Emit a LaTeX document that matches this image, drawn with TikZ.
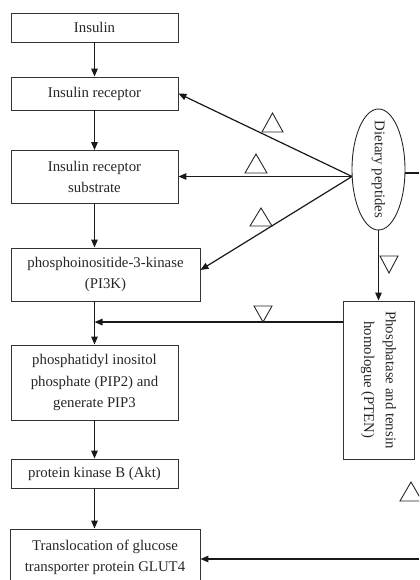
\documentclass[tikz,border=0pt]{standalone}
\usepackage{fontspec}
\setmainfont{Liberation Serif}
\usetikzlibrary{arrows.meta,shapes.geometric,calc}
\begin{document}
\begin{tikzpicture}[x=1bp,y=-1bp,
  txt/.style={font=\fontsize{14.8bp}{21.7bp}\selectfont, align=center, inner sep=0pt, text=black!85},
  stagebox/.style={draw=black!80, line width=0.9bp, inner sep=0pt},
  arr/.style={draw=black!90, line width=1.2bp, -{Triangle[length=8bp,width=6.5bp]}},
  plain/.style={draw=black!90, line width=1.2bp},
  effectmark/.style={draw=black!85, line width=0.9bp, line join=miter}]
\useasboundingbox (0,0) rectangle (419,580);
\clip (0,0) rectangle (419,580);

% pathway boxes
\node[stagebox, minimum width=167bp, minimum height=29bp] (ins) at (94.5,27.5) {};
\node[txt] (insT) at (ins) {Insulin};
\node[stagebox, minimum width=167bp, minimum height=33bp] (ir) at (94.5,93.5) {};
\node[txt] (irT) at (ir) {Insulin receptor};
\node[stagebox, minimum width=167bp, minimum height=53bp] (irs) at (94.5,177) {};
\node[txt] (irsT) at (irs) {Insulin receptor\\substrate};
\node[stagebox, minimum width=189bp, minimum height=53bp] (pi3k) at (105.5,274.5) {};
\node[txt] (pi3kT) at (pi3k) {phosphoinositide-3-kinase\\(PI3K)};
\node[stagebox, minimum width=167bp, minimum height=75bp] (pip) at (94.5,382.5) {};
\node[txt] (pipT) at (pip) {phosphatidyl inositol\\phosphate (PIP2) and\\generate PIP3};
\node[stagebox, minimum width=167bp, minimum height=29bp] (akt) at (94.5,473.5) {};
\node[txt] (aktT) at (akt) {protein kinase B (Akt)};
\node[stagebox, minimum width=190bp, minimum height=58bp] (glut) at (105,558) {};
\node[txt] (glutT) at (105,557.5) {Translocation of glucose\\transporter protein GLUT4};

% dietary peptides and PTEN
\node[draw=black!85, line width=0.9bp, ellipse, minimum width=53bp, minimum height=121bp, inner sep=0pt] (dp) at (378.5,169.5) {};
\node[txt, rotate=-90] (dpT) at (dp) {Dietary peptides};
\node[stagebox, minimum width=71bp, minimum height=158bp] (pten) at (378.5,380) {};
\node[txt, rotate=-90] (ptenT) at (pten) {Phosphatase and tensin\\homologue (PTEN)};

% main cascade
\draw[arr] (ins.south) -- (ir.north);
\draw[arr] (ir.south) -- (irs.north);
\draw[arr] (irs.south) -- (irs.south |- pi3k.north);
\draw[arr] (pi3k.south -| pip.north) -- (pip.north);
\draw[arr] (pip.south) -- (akt.north);
\draw[arr] (akt.south) -- (akt.south |- glut.north);

% effects of dietary peptides
\coordinate (hub) at (352,176.5);
\draw[arr] (hub) -- (ir.east);
\draw[arr] (hub) -- (hub -| irs.east);
\draw[arr] (hub) -- ($(pi3k.east)+(0,-4.5)$);
\draw[arr] (dp.south) -- (dp.south |- pten.north);
\coordinate (ptenOut) at ($(pten.north west)+(0,21.5)$);
\draw[arr] (ptenOut) -- (ptenOut -| pip.north);
\coordinate (dpRight) at (419,173);
\draw[plain] (dpRight -| dp.east) -- (dpRight);
\coordinate (glutIn) at (419,559);
\draw[arr] (glutIn) -- (glutIn -| glut.east);

% promotion / inhibition marks
\draw[effectmark] (262,132) -- (283,132) -- (272.5,113) -- cycle;
\draw[effectmark] (245,173) -- (267,173) -- (256,154) -- cycle;
\draw[effectmark] (250,226) -- (272,226) -- (261,208) -- cycle;
\draw[effectmark] (400,501) -- (422,501) -- (411,482) -- cycle;
\draw[effectmark] (380,256) -- (398,256) -- (389,273) -- cycle;
\draw[effectmark] (254,306) -- (272,306) -- (263,322) -- cycle;
\end{tikzpicture}
\end{document}
